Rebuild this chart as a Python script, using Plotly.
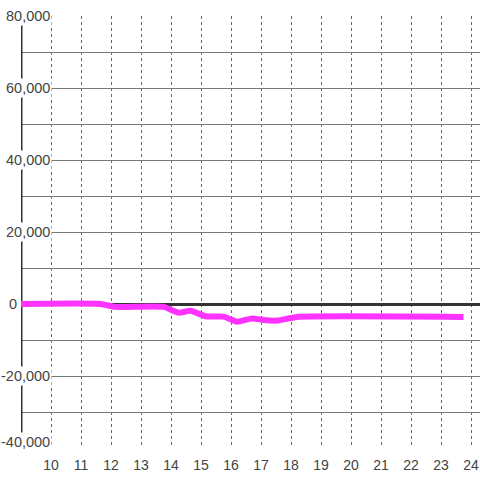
import plotly.graph_objects as go

# data
hours = [9, 11.65, 12.15, 13.75, 14.25, 14.65, 15.15, 15.75, 16.2, 16.7, 17.15, 17.55, 18.2, 23.75]
values = [0, 0, -800, -800, -2400, -1900, -3400, -3500, -4900, -4000, -4500, -4600, -3600, -3600]
x_ticks = list(range(10, 25))
y_grid = list(range(-40000, 80001, 10000))
y_label_vals = list(range(-40000, 80001, 20000))

FONT = "Liberation Sans, Arial, sans-serif"

fig = go.Figure()
fig.add_trace(go.Scatter(
    x=hours, y=values, mode="lines",
    line=dict(color="#ff33ff", width=6, shape="spline", smoothing=0.5),
    hoverinfo="skip", showlegend=False,
))

annotations = []
for v in y_label_vals:
    txt = f"{v:,}"
    if v == 0:
        annotations.append(dict(x=9, y=v, xref="x", yref="y", text=txt, showarrow=False,
                                xanchor="right", yanchor="middle", xshift=-2,
                                font=dict(family=FONT, size=14.5, color="#444")))
    else:
        annotations.append(dict(x=10, y=v, xref="x", yref="y", text=txt, showarrow=False,
                                xanchor="right", yanchor="middle", xshift=1,
                                yshift=6 if v == min(y_label_vals) else 0,
                                bgcolor="white", borderpad=1,
                                font=dict(family=FONT, size=14.5, color="#444")))

fig.update_layout(
    width=480, height=480,
    margin=dict(l=21, r=0, t=16, b=32, autoexpand=False),
    paper_bgcolor="white", plot_bgcolor="white",
    annotations=annotations,
    shapes=[dict(type="line", xref="x", yref="y", x0=9, x1=9, y0=-40000, y1=80000,
                 line=dict(color="#333", width=3), layer="between")],
    xaxis=dict(range=[9, 24.3], tickvals=x_ticks, ticktext=[str(t) for t in x_ticks],
               showgrid=True, gridcolor="#666", gridwidth=1, griddash="3px,3px",
               zeroline=False, showline=False, ticks="", automargin=False,
               ticklabelstandoff=7,
               tickfont=dict(family=FONT, size=14, color="#444"),
               fixedrange=True),
    yaxis=dict(range=[-40000, 80000], tickvals=y_grid, showticklabels=False,
               showgrid=True, gridcolor="#777", gridwidth=1,
               zeroline=True, zerolinecolor="#333", zerolinewidth=3, automargin=False,
               showline=False, ticks="", fixedrange=True),
)

fig.write_html("out.html", config={"displayModeBar": False},
               post_script="document.body.style.margin='0';document.body.style.overflow='hidden';")
